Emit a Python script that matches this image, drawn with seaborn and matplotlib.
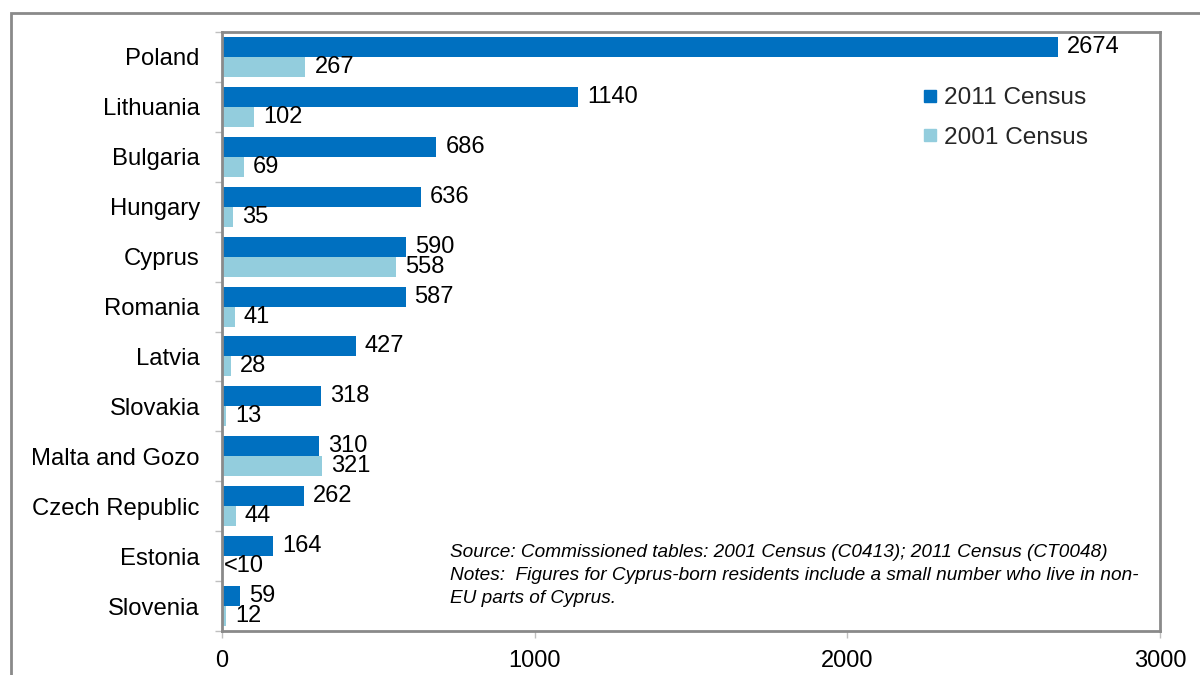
import numpy as np
import pandas as pd
import matplotlib
matplotlib.use("Agg")
import matplotlib.pyplot as plt
from matplotlib.patches import Rectangle
from matplotlib.lines import Line2D
import seaborn as sns

# EU-born residents by country of birth
countries = ["Poland", "Lithuania", "Bulgaria", "Hungary", "Cyprus", "Romania",
             "Latvia", "Slovakia", "Malta and Gozo", "Czech Republic", "Estonia",
             "Slovenia"]
census_2011 = [2674, 1140, 686, 636, 590, 587, 427, 318, 310, 262, 164, 59]
# Estonia 2001 is suppressed (fewer than 10); drawn as an empty bar
census_2001 = [267, 102, 69, 35, 558, 41, 28, 13, 321, 44, 0, 12]
suppressed_2001 = ["Estonia"]
series_names = ["2011 Census", "2001 Census"]
x_ticks = [0, 1000, 2000, 3000]

source_note = ("Source: Commissioned tables: 2001 Census (C0413); 2011 Census (CT0048)\n"
               "Notes:  Figures for Cyprus-born residents include a small number who live in non-\n"
               "EU parts of Cyprus.")

df = pd.DataFrame({
    "country": countries * 2,
    "census": [series_names[0]] * len(countries) + [series_names[1]] * len(countries),
    "residents": census_2011 + census_2001,
})

sns.set_theme(style="white")
plt.rcParams["font.family"] = ["Liberation Sans", "DejaVu Sans"]

DARK = "#0070C0"
LIGHT = "#93CDDD"
FRAME = "#8A8A8A"
TICK = "#BFBFBF"

fig = plt.figure(figsize=(12, 6.75), dpi=100)
fig.patch.set_facecolor("white")

# outer chart frame
fig.patches.append(Rectangle((11 / 1200, -0.2), 1.2, 1.2 - 13 / 675,
                             transform=fig.transFigure, fill=False,
                             edgecolor=FRAME, lw=2.0))

ax = fig.add_axes([222 / 1200, 1 - 631 / 675, (1160 - 222) / 1200, (631 - 32) / 675])

sns.barplot(data=df, y="country", x="residents", hue="census",
            hue_order=series_names, order=countries,
            palette=[DARK, LIGHT], orient="h", width=0.8, saturation=1,
            errorbar=None, legend=False, ax=ax, linewidth=0)

ax.set_xlim(0, 3000)
ax.set_ylim(len(countries) - 0.5, -0.5)
ax.set_xlabel("")
ax.set_ylabel("")

# value labels
for k, (container, vals) in enumerate(zip(ax.containers, [census_2011, census_2001])):
    labels = []
    for c, v in zip(countries, vals):
        if k == 1 and c in suppressed_2001:
            labels.append("")
        else:
            labels.append(f"{v}")
    ax.bar_label(container, labels=labels, padding=6.5, fontsize=17, color="black")

for c in suppressed_2001:
    i = countries.index(c)
    ax.annotate("<10", xy=(census_2001[i], i + 0.2), xytext=(1.5, 0),
                textcoords="offset points", ha="left", va="center",
                fontsize=17, color="black")

# axes styling
for s in ax.spines.values():
    s.set_color(FRAME)
    s.set_linewidth(2.0)

ax.set_xticks(x_ticks)
ax.set_xticklabels([str(t) for t in x_ticks], fontsize=17, color="black")
ax.tick_params(axis="x", which="major", direction="out", length=5, width=1,
               color=TICK, pad=9, bottom=True)

ax.set_yticks(range(len(countries)))
ax.set_yticklabels(countries, fontsize=17.2, color="black")
ax.tick_params(axis="y", which="major", length=0, pad=16)
ax.set_yticks(np.arange(-0.5, len(countries)), minor=True)
ax.tick_params(axis="y", which="minor", direction="out", length=5, width=1,
               color=TICK, left=True)

# legend
handles = [Line2D([], [], marker="s", linestyle="", markersize=9,
                  markerfacecolor=col, markeredgecolor=col) for col in (DARK, LIGHT)]
ax.legend(handles, series_names, loc="upper left",
          bbox_to_anchor=(923 / 1200, 1 - 87 / 675), bbox_transform=fig.transFigure,
          frameon=False, fontsize=17.6, handlelength=0.6, handletextpad=0.25,
          labelspacing=0.72, borderaxespad=0, borderpad=0)

fig.text(450 / 1200, 1 - 544 / 675, source_note, ha="left", va="top",
         fontsize=13.65, style="italic", color="black", linespacing=1.45)

fig.savefig("out.png", dpi=100, facecolor="white")
